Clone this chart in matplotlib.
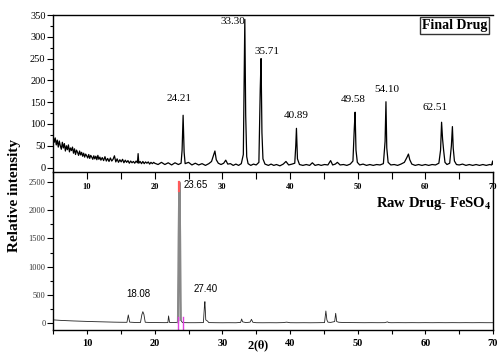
import matplotlib
matplotlib.use("Agg")
import matplotlib.pyplot as plt
from matplotlib.ticker import MultipleLocator

plt.rcParams['font.family'] = ['Liberation Serif', 'DejaVu Serif']
plt.rcParams['mathtext.fontset'] = 'stix'

# Final drug pattern, noisy low-angle part (2theta, intensity)
fin_low = [(5.00, 72), (5.15, 58), (5.30, 68), (5.45, 52), (5.60, 63), (5.75, 47),
           (5.90, 61), (6.05, 50), (6.20, 42), (6.35, 58), (6.50, 45), (6.65, 55),
           (6.80, 38), (6.95, 50), (7.10, 41), (7.25, 52), (7.40, 36), (7.55, 45),
           (7.70, 39), (7.85, 47), (8.00, 33), (8.15, 43), (8.30, 30), (8.45, 40),
           (8.60, 35), (8.75, 28), (8.90, 38), (9.05, 29), (9.20, 35), (9.35, 26),
           (9.50, 33), (9.65, 24), (9.80, 31), (9.95, 27), (10.10, 22), (10.25, 30),
           (10.40, 21), (10.55, 28), (10.70, 24), (10.85, 19), (11.00, 27), (11.15, 20),
           (11.30, 26), (11.45, 18), (11.60, 28), (11.75, 19), (11.90, 24), (12.05, 17),
           (12.25, 23), (12.45, 16), (12.65, 25), (12.85, 15), (13.05, 21), (13.25, 14),
           (13.45, 22), (13.65, 15), (13.85, 19), (14.05, 27), (14.25, 13), (14.45, 20),
           (14.65, 12), (14.85, 18), (15.05, 13), (15.25, 19), (15.45, 11), (15.65, 17),
           (15.85, 12), (16.05, 16), (16.25, 10), (16.45, 15), (16.65, 11), (16.85, 14),
           (17.05, 10), (17.25, 15), (17.45, 11), (17.55, 32), (17.65, 10), (17.85, 14),
           (18.05, 9), (18.25, 14), (18.45, 9), (18.65, 13), (18.85, 10), (19.05, 13),
           (19.25, 8), (19.45, 12), (19.65, 9), (19.85, 12), (20.0, 10)]

# Final drug pattern, 20-70 deg with the peaks
fin_x = [20.5, 21.0, 21.5, 22.0, 22.5, 23.0, 23.5, 23.9,
         24.05, 24.2, 24.35, 24.5, 25.0, 25.5, 26.0, 26.5, 27.0, 27.5, 28.0, 28.4, 28.7,
         28.9, 29.1, 29.4, 29.8, 30.2, 30.5, 30.8, 31.2, 31.6, 32.0, 32.4, 32.8, 33.1,
         33.25, 33.32, 33.45, 33.6, 33.8, 34.2, 34.6, 35.0, 35.4, 35.6, 35.72, 35.85,
         36.0, 36.3, 36.8, 37.2, 37.6, 38.0, 38.5, 39.0, 39.4, 39.8, 40.3, 40.7, 40.85,
         40.95, 41.1, 41.4, 41.9, 42.4, 42.9, 43.3, 43.7, 44.2, 44.6, 45.1, 45.6, 46.0,
         46.3, 46.7, 47.0, 47.4, 47.9, 48.4, 48.9, 49.3, 49.5, 49.62, 49.75, 49.95,
         50.3, 50.8, 51.3, 51.8, 52.3, 52.8, 53.3, 53.8, 54.05, 54.18, 54.3, 54.5, 54.9,
         55.4, 55.9, 56.4, 56.9, 57.3, 57.5, 57.7, 58.0, 58.5, 59.0, 59.5, 60.0, 60.5,
         61.0, 61.5, 62.0, 62.25, 62.4, 62.55, 62.7, 62.9, 63.2, 63.6, 63.85, 64.0,
         64.12, 64.3, 64.6, 65.0, 65.5, 66.0, 66.5, 67.0, 67.5, 68.0, 68.5, 69.0, 69.5,
         69.8, 69.95, 70.0]
fin_y = [7, 12, 7, 11, 6, 11, 7, 10,
         40, 120, 35, 9, 12, 6, 10, 6, 9, 5, 9, 14, 28,
         38, 18, 10, 7, 10, 17, 8, 9, 5, 8, 5, 9, 30,
         250, 340, 120, 25, 9, 5, 8, 6, 12, 180, 250, 80,
         20, 8, 5, 8, 5, 7, 4, 8, 14, 6, 8, 10, 50,
         90, 20, 7, 5, 7, 5, 11, 5, 7, 5, 7, 6, 16,
         6, 8, 12, 6, 7, 5, 8, 15, 90, 127, 40, 12,
         6, 8, 5, 7, 5, 7, 6, 9, 60, 151, 45, 12, 6,
         7, 5, 8, 12, 24, 31, 18, 8, 5, 7, 5, 7, 5,
         7, 6, 10, 40, 104, 65, 40, 12, 7, 10, 50, 94,
         45, 15, 7, 6, 8, 5, 7, 5, 7, 5, 7, 5, 7,
         6, 15, 8]

# Raw drug FeSO4 pattern
raw_x = [5.0, 6.0, 7.0, 8.0, 9.0, 10.0, 11.0, 12.0, 13.0, 14.0, 15.0, 15.9, 16.1,
         16.3, 17.0, 17.9, 18.1, 18.25, 18.4, 18.6, 19.5, 20.5, 21.5, 21.95, 22.05,
         22.2, 23.0, 23.45, 23.55, 23.65, 23.75, 23.85, 24.1, 25.0, 26.0, 27.2, 27.35,
         27.42, 27.55, 27.8, 28.0, 29.0, 30.0, 31.0, 32.0, 32.7, 32.85, 33.0, 33.5,
         34.1, 34.3, 34.5, 35.0, 36.0, 37.0, 38.0, 39.0, 39.5, 40.0, 41.0, 42.0, 43.0,
         44.0, 45.1, 45.3, 45.45, 45.6, 46.0, 46.6, 46.75, 46.9, 47.2, 48.0, 49.0,
         50.0, 51.0, 52.0, 53.0, 54.0, 54.4, 54.6, 55.0, 56.0, 57.0, 58.0, 59.0, 60.0,
         61.0, 62.0, 63.0, 64.0, 65.0, 66.0, 67.0, 68.0, 69.0, 70.0]
raw_y = [60, 52, 46, 41, 37, 33, 29, 26, 23, 20, 18, 17, 147,
         20, 15, 14, 150, 205, 160, 18, 13, 12, 11, 12, 130,
         14, 12, 20, 1500, 2490, 1500, 60, 12, 10, 10, 12, 300,
         382, 60, 40, 12, 10, 9, 10, 9, 15, 76, 25, 12,
         20, 70, 18, 10, 9, 10, 9, 12, 20, 10, 9, 10, 9,
         10, 12, 217, 60, 20, 15, 30, 176, 30, 18, 13, 12,
         11, 10, 11, 10, 11, 25, 12, 10, 11, 10, 11, 10, 11,
         10, 11, 10, 11, 10, 11, 10, 11, 10, 10]

fin_labels = ['24.21', '33.30', '35.71', '40.89', '49.58', '54.10', '62.51']
fin_lab_x = [23.6, 31.5, 36.65, 40.9, 49.4, 54.27, 61.5]
fin_lab_y = [159, 335, 266, 119, 157, 180, 138]

raw_labels = ['18.08', '23.65', '27.40']
raw_lab_x = [17.57, 26.07, 27.57]
raw_lab_y = [510, 2440, 605]

all_x = [p[0] for p in fin_low] + fin_x
all_y = [p[1] for p in fin_low] + fin_y

W, H = 497, 353
fig = plt.figure(figsize=(W / 100, H / 100), dpi=100)

x0 = 53.2 / W
wd = (493 - 53.2) / W
ax2 = fig.add_axes([x0, 1 - 329.5 / H, wd, (329.5 - 171.5) / H])
ax1 = fig.add_axes([x0, 1 - 171.5 / H, wd, (171.5 - 15) / H])

# top panel
ax1.plot(all_x, all_y, color='black', lw=0.9)
ax1.set_xlim(5, 70)
ax1.set_ylim(-9, 350)
ax1.yaxis.set_major_locator(MultipleLocator(50))
ax1.yaxis.set_minor_locator(MultipleLocator(25))
ax1.xaxis.set_major_locator(MultipleLocator(10))
ax1.xaxis.set_minor_locator(MultipleLocator(5))
ax1.tick_params(axis='y', which='major', direction='out', length=4, width=0.8,
                labelsize=7.5, pad=1.5)
ax1.tick_params(axis='y', which='minor', direction='out', length=2, width=0.8)
ax1.tick_params(axis='x', which='both', direction='out', length=5, width=0.8,
                labelsize=6, pad=3)
ax1.set_xticks([10, 20, 30, 40, 50, 60, 70])
for t in ax1.get_xticklabels():
    t.set_fontweight('bold')
ax1.spines['right'].set_visible(False)
for s in ax1.spines.values():
    s.set_linewidth(1.0)
for lab, lx, ly in zip(fin_labels, fin_lab_x, fin_lab_y):
    ax1.text(lx, ly, lab, fontsize=8, ha='center', va='center')
ax1.text(0.912, 0.933, 'Final Drug', transform=ax1.transAxes, fontsize=10,
         fontweight='bold', ha='center', va='center',
         bbox=dict(boxstyle='square,pad=0.15', fc='white', ec='#333333', lw=1.0))

# bottom panel
ax2.plot(raw_x, raw_y, color='#222222', lw=0.6)
ax2.plot(raw_x[27:32], raw_y[27:32], color='#888888', lw=1.6)
ax2.plot([23.62, 23.62], [2330, 2490], color='#ff5a5a', lw=1.6)
ax2.plot([23.4, 23.4], [-110, 110], color='#e040e0', lw=1.0)
ax2.plot([24.2, 24.2], [-110, 110], color='#e040e0', lw=1.0)
ax2.set_xlim(5, 70)
ax2.set_ylim(-110, 2682)
ax2.yaxis.set_major_locator(MultipleLocator(500))
ax2.yaxis.set_minor_locator(MultipleLocator(250))
ax2.xaxis.set_major_locator(MultipleLocator(10))
ax2.xaxis.set_minor_locator(MultipleLocator(5))
ax2.tick_params(axis='y', which='major', direction='out', length=4, width=0.8,
                labelsize=6, pad=1.5, labelcolor='#333333')
ax2.tick_params(axis='y', which='minor', direction='out', length=2, width=0.8)
ax2.tick_params(axis='x', which='both', direction='out', length=3, width=0.8,
                labelsize=7.5, pad=4)
for t in ax2.get_xticklabels():
    t.set_fontweight('bold')
ax2.spines['top'].set_visible(False)
for s in ax2.spines.values():
    s.set_linewidth(1.0)
for lab, lx, ly in zip(raw_labels, raw_lab_x, raw_lab_y):
    ax2.text(lx, ly, lab, fontsize=7, ha='center', va='center',
             family='Liberation Sans')
ax2.text(0.866, 0.80, r'Raw Drug- FeSO$_\mathbf{4}$', transform=ax2.transAxes,
         fontsize=10.5, fontweight='bold', ha='center', va='center')

fig.text(15 / W, 1 - 195 / H, 'Relative intensity', rotation=90, fontsize=11,
         fontweight='bold', ha='center', va='center')
fig.text(258 / W, 1 - 346 / H, r'2($\mathbf{\theta}$)', fontsize=9,
         fontweight='bold', ha='center', va='center')

fig.savefig('out.png', dpi=100)
